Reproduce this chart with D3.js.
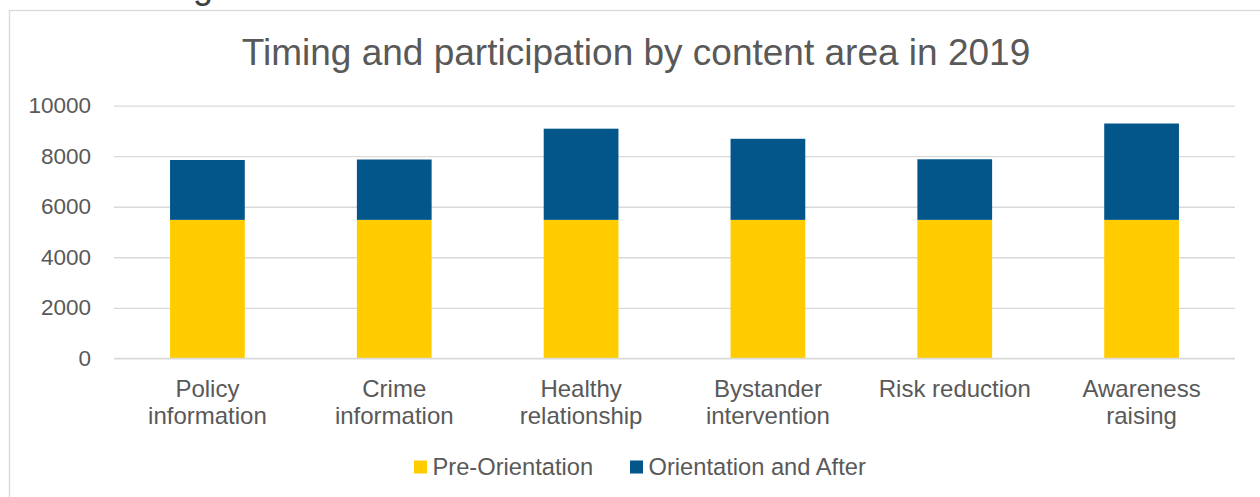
<!DOCTYPE html>
<html>
<head>
<meta charset="utf-8">
<script src="https://cdn.jsdelivr.net/npm/d3@7"></script>
<style>
  body { margin: 0; background: #fff; }
  svg { display: block; font-family: "Liberation Sans", Arial, sans-serif; }
</style>
</head>
<body>
<svg id="chart"></svg>
<script>
(function() {

const categories = [
  ["Policy", "information"],
  ["Crime", "information"],
  ["Healthy", "relationship"],
  ["Bystander", "intervention"],
  ["Risk reduction"],
  ["Awareness", "raising"]
];
const seriesNames = ["Pre-Orientation", "Orientation and After"];
const preOrientation = [5480, 5480, 5480, 5480, 5480, 5480];
const orientationAfter = [2370, 2390, 3610, 3210, 2400, 3815];
const yTicks = [0, 2000, 4000, 6000, 8000, 10000];
const colors = ["#ffcc00", "#02568a"];

const W = 1260, H = 497;
const margin = { top: 105.7, right: 25, bottom: 138.7, left: 114 };

const svg = d3.select("#chart")
    .attr("width", W)
    .attr("height", H);

// chart frame (runs off the right and bottom of the picture)
svg.append("rect")
    .attr("x", 9.5).attr("y", 10.5)
    .attr("width", W + 20).attr("height", H + 20)
    .attr("fill", "none")
    .attr("stroke", "#d9d9d9")
    .attr("stroke-width", 1.3);

// cut-off text from above the chart
svg.append("text")
    .attr("x", 193).attr("y", -2)
    .attr("font-size", 36)
    .attr("fill", "#404040")
    .text("g");

svg.append("text")
    .attr("x", 636).attr("y", 65)
    .attr("text-anchor", "middle")
    .attr("font-size", 37)
    .attr("fill", "#595959")
    .text("Timing and participation by content area in 2019");

const data = categories.map((c, i) => ({
    key: i,
    pre: preOrientation[i],
    post: orientationAfter[i]
}));

const x = d3.scaleBand()
    .domain(data.map(d => d.key))
    .range([margin.left, W - margin.right])
    .padding(0);

const y = d3.scaleLinear()
    .domain([0, 10000])
    .range([H - margin.bottom, margin.top]);

// gridlines + y labels
const yAxis = svg.append("g")
    .attr("transform", `translate(${margin.left},0)`)
    .call(d3.axisLeft(y)
        .tickValues(yTicks)
        .tickSize(-(W - margin.left - margin.right))
        .tickPadding(23)
        .tickFormat(d3.format("d")));
yAxis.select(".domain").remove();
yAxis.selectAll(".tick line")
    .attr("stroke", "#d9d9d9")
    .attr("stroke-width", 1.3);
yAxis.selectAll(".tick text")
    .attr("font-size", 22.5)
    .attr("fill", "#595959")
    .attr("font-family", "'Liberation Sans', Arial, sans-serif");

const stack = d3.stack().keys(["pre", "post"]);
const stacked = stack(data);

const barW = x.bandwidth() * 0.4;

svg.append("g")
  .selectAll("g")
  .data(stacked)
  .join("g")
    .attr("fill", (d, i) => colors[i])
  .selectAll("rect")
  .data(d => d)
  .join("rect")
    .attr("x", d => x(d.data.key) + (x.bandwidth() - barW) / 2)
    .attr("y", d => y(d[1]))
    .attr("width", barW)
    .attr("height", d => y(d[0]) - y(d[1]));

// x axis baseline
svg.append("line")
    .attr("x1", margin.left).attr("x2", W - margin.right)
    .attr("y1", y(0)).attr("y2", y(0))
    .attr("stroke", "#d9d9d9")
    .attr("stroke-width", 1.3);

// category labels
const xLabels = svg.append("g")
  .selectAll("text")
  .data(data)
  .join("text")
    .attr("x", d => x(d.key) + x.bandwidth() / 2)
    .attr("y", 397)
    .attr("text-anchor", "middle")
    .attr("font-size", 24)
    .attr("fill", "#595959");

xLabels.selectAll("tspan")
  .data(d => categories[d.key])
  .join("tspan")
    .attr("x", function() { return d3.select(this.parentNode).attr("x"); })
    .attr("dy", (d, i) => i === 0 ? 0 : 26.5)
    .text(d => d);

// legend
const legendItems = [
  { name: seriesNames[0], color: colors[0], x: 414 },
  { name: seriesNames[1], color: colors[1], x: 630 }
];
const legend = svg.append("g");
legend.selectAll("rect")
  .data(legendItems)
  .join("rect")
    .attr("x", d => d.x)
    .attr("y", 460.5)
    .attr("width", 13)
    .attr("height", 13)
    .attr("fill", d => d.color);
legend.selectAll("text")
  .data(legendItems)
  .join("text")
    .attr("x", d => d.x + 18.5)
    .attr("y", 475)
    .attr("font-size", 23.7)
    .attr("fill", "#595959")
    .text(d => d.name);

})();
</script>
</body>
</html>
